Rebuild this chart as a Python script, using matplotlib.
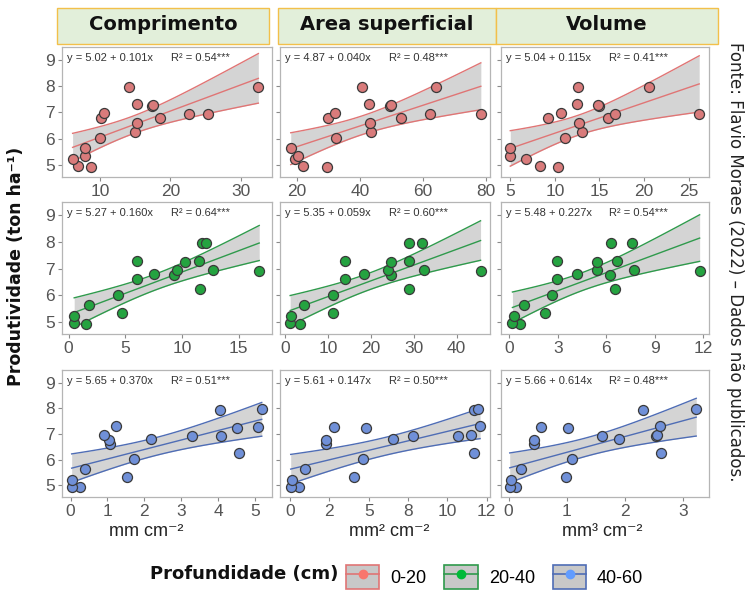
import numpy as np
import matplotlib
matplotlib.use('Agg')
import matplotlib.pyplot as plt
from matplotlib.patches import Rectangle, Patch
from matplotlib.lines import Line2D

# yield shared by all panels (ton/ha), sorted
yield_t = [4.93, 4.95, 5.23, 5.34, 5.65, 6.02, 6.25, 6.61, 6.77, 6.80,
           6.92, 6.94, 6.96, 7.24, 7.28, 7.30, 7.96, 7.97]

# root traits, one list per panel (same order as yield_t)
comp_020 = [8.7, 6.8, 6.1, 7.9, 7.9, 10.0, 15.0, 15.3, 10.2, 18.5, 25.3, 22.7, 10.5, 17.4, 17.5, 15.3, 14.1, 32.5]
area_020 = [29.7, 22.1, 19.5, 20.5, 18.1, 32.4, 43.4, 43.2, 30.0, 53.1, 78.3, 62.2, 32.1, 49.4, 49.8, 42.9, 40.8, 64.0]
vol_020 = [10.3, 8.3, 6.8, 5.0, 5.0, 11.1, 13.0, 12.7, 9.2, 16.0, 26.2, 16.8, 10.7, 15.0, 14.9, 12.5, 12.6, 20.6]
comp_2040 = [1.5, 0.5, 0.5, 4.75, 1.8, 4.35, 11.6, 6.0, 9.3, 7.5, 16.8, 9.6, 12.7, 10.3, 11.5, 6.0, 11.8, 12.1]
area_2040 = [3.5, 1.2, 1.3, 11.1, 4.5, 11.1, 29.0, 14.1, 24.6, 18.5, 45.6, 23.9, 32.4, 24.6, 28.9, 14.1, 28.9, 32.0]
vol_2040 = [0.66, 0.19, 0.29, 2.21, 0.91, 2.62, 6.55, 2.98, 6.24, 4.17, 11.8, 5.41, 7.73, 5.41, 6.65, 2.93, 6.3, 7.62]
comp_4060 = [0.25, 0.03, 0.05, 1.52, 0.39, 1.72, 4.57, 1.07, 1.04, 2.17, 4.07, 3.28, 0.9, 4.5, 5.07, 1.22, 4.05, 5.18]
area_4060 = [0.57, 0.04, 0.1, 4.09, 0.95, 4.66, 11.72, 2.29, 2.27, 6.57, 10.7, 7.84, 11.5, 4.85, 2.82, 12.08, 11.72, 11.97]
vol_4060 = [0.13, 0.02, 0.04, 0.99, 0.22, 1.1, 2.62, 0.44, 0.43, 1.9, 2.54, 1.61, 2.56, 1.03, 0.56, 2.6, 2.32, 3.23]

panel_x = [[comp_020, area_020, vol_020],
           [comp_2040, area_2040, vol_2040],
           [comp_4060, area_4060, vol_4060]]

equations = [["y = 5.02 + 0.101x", "y = 4.87 + 0.040x", "y = 5.04 + 0.115x"],
             ["y = 5.27 + 0.160x", "y = 5.35 + 0.059x", "y = 5.48 + 0.227x"],
             ["y = 5.65 + 0.370x", "y = 5.61 + 0.147x", "y = 5.66 + 0.614x"]]
r2_values = [["0.54", "0.48", "0.41"],
             ["0.64", "0.60", "0.54"],
             ["0.51", "0.50", "0.48"]]

col_titles = ["Comprimento", "Area superficial", "Volume"]
x_units = ["mm cm⁻²", "mm² cm⁻²", "mm³ cm⁻²"]
depths = ["0-20", "20-40", "40-60"]

x_ticks = [[10, 20, 30], [20, 40, 60, 80], [5, 10, 15, 20, 25]], \
          [[0, 5, 10, 15], [0, 10, 20, 30, 40], [0, 3, 6, 9, 12]], \
          [[0, 1, 2, 3, 4, 5], [0, 2.5, 5, 7.5, 10, 12.5], [0, 1, 2, 3]]
x_ticklabels_r3c2 = ["0", "2", "5", "8", "10", "12"]
x_lims = [[(4.55, 34.4), (14.7, 81.2), (3.96, 27.3)],
          [(-0.6, 17.9), (-1.17, 47.8), (-0.52, 12.38)],
          [(-0.24, 5.45), (-0.64, 12.71), (-0.13, 3.45)]]

point_fill = ["#d97b7b", "#24a340", "#7090d8"]
line_col = ["#e07575", "#2f9a4c", "#4f6db5"]
legend_dot = ["#f8766d", "#00ba38", "#619cff"]

W, H = 745, 592
fig = plt.figure(figsize=(W / 100, H / 100), dpi=100)

col_px = [(61.7, 271.7), (280, 490), (501, 709)]
row_px = [(46.7, 176.7), (202, 334), (370, 497)]
T_CRIT = 2.12  # t(0.975, df=16)

for r in range(3):
    for c in range(3):
        x0, x1 = col_px[c]
        y0, y1 = row_px[r]
        ax = fig.add_axes([x0 / W, 1 - y1 / H, (x1 - x0) / W, (y1 - y0) / H])
        x = np.array(panel_x[r][c])
        y = np.array(yield_t)

        b, a = np.polyfit(x, y, 1)
        xs = np.linspace(x.min(), x.max(), 100)
        yhat = a + b * xs
        n = len(x)
        s = np.sqrt(np.sum((y - (a + b * x)) ** 2) / (n - 2))
        se = s * np.sqrt(1 / n + (xs - x.mean()) ** 2 / np.sum((x - x.mean()) ** 2))
        lo, hi = yhat - T_CRIT * se, yhat + T_CRIT * se

        ax.fill_between(xs, lo, hi, color='#cdcdcd', alpha=0.85, lw=0, zorder=1)
        ax.plot(xs, lo, color=line_col[r], lw=1.0, zorder=2)
        ax.plot(xs, hi, color=line_col[r], lw=1.0, zorder=2)
        ax.plot(xs, yhat, color=line_col[r], lw=1.0, zorder=2)
        ax.scatter(x, y, s=52, c=point_fill[r], edgecolors='#3a3a3a', linewidths=0.9, zorder=3)

        ax.set_ylim(4.55, 9.5)
        ax.set_xlim(*x_lims[r][c])
        ax.set_yticks([5, 6, 7, 8, 9])
        ax.set_xticks(x_ticks[r][c])
        if r == 2 and c == 1:
            ax.set_xticklabels(x_ticklabels_r3c2)
        if c != 0:
            ax.set_yticklabels([])
        ax.tick_params(colors='#8a8a8a', labelcolor='#555555', labelsize=12.5,
                       length=3, width=0.8, pad=2)
        for lab in ax.get_xticklabels() + ax.get_yticklabels():
            lab.set_family('Liberation Sans')
        for sp in ax.spines.values():
            sp.set_color('#b5b5b5')
            sp.set_linewidth(0.9)

        ax.text(0.025, 0.915, equations[r][c], transform=ax.transAxes,
                fontsize=8, color='#333333', family='Liberation Sans', va='center')
        ax.text(0.52, 0.915, f"R² = {r2_values[r][c]}***", transform=ax.transAxes,
                fontsize=8, color='#333333', family='Liberation Sans', va='center')

# column title strips
strip_px = [(57, 269), (278, 496), (496, 718)]
for c, (sx0, sx1) in enumerate(strip_px):
    sy0, sy1 = 8, 44
    fig.patches.append(Rectangle((sx0 / W, 1 - sy1 / H), (sx1 - sx0) / W, (sy1 - sy0) / H,
                                 transform=fig.transFigure, facecolor='#e2efda',
                                 edgecolor='#f2c04a', lw=1.0, zorder=5))
    fig.text((sx0 + sx1) / 2 / W, 1 - 25 / H, col_titles[c], ha='center', va='center',
             fontsize=14, fontweight='bold', color='#111111', zorder=6)

# axis labels
x_unit_px = [146, 389, 602]
for c in range(3):
    fig.text(x_unit_px[c] / W, 1 - 531 / H, x_units[c], ha='center', va='center',
             fontsize=13, color='#222222', family=['Liberation Sans', 'DejaVu Sans'])

fig.text(16 / W, 1 - 266 / H, "Produtividade (ton ha⁻¹)", rotation=90, ha='center',
         va='center', fontsize=12.5, fontweight='bold', color='#111111')

fig.text(735 / W, 1 - 262 / H, "Fonte: Flavio Moraes (2022) – Dados não publicados.",
         rotation=-90, ha='center', va='center', fontsize=12, color='#222222')

# legend
fig.text(244 / W, 1 - 574 / H, "Profundidade (cm)", ha='center', va='center',
         fontsize=13, fontweight='bold', color='#111111')
handles = []
for k in range(3):
    box = Patch(facecolor='#c8c8c8', edgecolor=line_col[k], lw=1.2)
    ln = Line2D([], [], color=line_col[k], lw=1.2, marker='o', markersize=6,
                markerfacecolor=legend_dot[k], markeredgecolor=legend_dot[k])
    handles.append((box, ln))
leg = fig.legend(handles, depths, loc='center left', bbox_to_anchor=(346 / W, 1 - 577 / H),
                 ncol=3, frameon=False, borderpad=0, borderaxespad=0,
                 handlelength=1.85, handleheight=1.7, handletextpad=0.6,
                 columnspacing=1.0, prop={'family': 'Liberation Sans', 'size': 13})

fig.savefig('out.png', dpi=100)
